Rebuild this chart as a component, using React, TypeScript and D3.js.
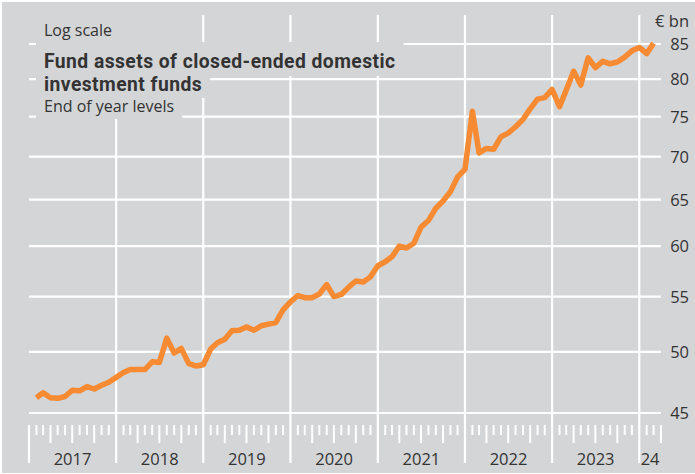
import React, { useEffect, useRef } from "react";
import * as d3 from "d3";

// month-end levels, € bn, Jan 2017 .. Feb 2024
const firstMonth = "2017-01";
const values: number[] = [
  46.2, 46.6, 46.2, 46.15, 46.3, 46.8, 46.75, 47.1, 46.9, 47.2, 47.45, 47.85, // 2017
  48.25, 48.5, 48.5, 48.5, 49.15, 49.1, 51.2, 49.9, 50.3, 49.0, 48.8, 48.9, // 2018
  50.25, 50.8, 51.1, 51.85, 51.9, 52.2, 51.9, 52.3, 52.45, 52.6, 53.75, 54.5, // 2019
  55.1, 54.9, 54.9, 55.25, 56.15, 55.0, 55.2, 55.9, 56.5, 56.4, 56.9, 58.0, // 2020
  58.4, 58.9, 60.0, 59.8, 60.3, 62.0, 62.7, 64.05, 64.85, 65.9, 67.6, 68.5, // 2021
  75.7, 70.45, 71.0, 70.9, 72.45, 72.9, 73.7, 74.65, 76.0, 77.3, 77.5, 78.6, // 2022
  76.3, 78.5, 81.1, 79.2, 83.0, 81.6, 82.5, 82.15, 82.4, 83.1, 84.0, 84.5, // 2023
  83.6, 85.1, // 2024
];
const yTicks = [45, 50, 55, 60, 65, 70, 75, 80, 85];
const yearLabels = ["2017", "2018", "2019", "2020", "2021", "2022", "2023", "24"];
const axisStart = "2017-01-01";
const axisEnd = "2024-04-01";

const titleLines = ["Fund assets of closed-ended domestic", "investment funds"];

const W = 695;
const H = 474;
const BG = "#d4d5d7";
const TEXT = "#333333";
const ORANGE = "#f68b33";
const FONT = "'Open Sans', 'Noto Sans', sans-serif";
const TITLE_FONT = "Roboto, 'Open Sans', sans-serif";

export default function App() {
  const ref = useRef<SVGSVGElement>(null);

  useEffect(() => {
    if (!ref.current) return;
    const svg = d3.select(ref.current);
    svg.selectAll("*").remove();

    const left = 29, right = 661, top = 15, bottom = 413;
    const x = d3.scaleTime().domain([new Date(axisStart), new Date(axisEnd)]).range([left, right]);
    const y = d3.scaleLog().domain([45, 85]).range([bottom, 44]);

    const start = d3.timeParse("%Y-%m")(firstMonth)!;
    // plotted at end of month = first day of following month
    const rows = values.map((v, i) => ({ date: d3.timeMonth.offset(start, i + 1), v }));

    svg.append("rect").attr("x", 2).attr("y", 2).attr("width", W - 2).attr("height", H - 3).attr("fill", BG);

    // horizontal grid
    svg.append("g").selectAll("line").data(yTicks).join("line")
      .attr("x1", left).attr("x2", right)
      .attr("y1", (d) => y(d)).attr("y2", (d) => y(d))
      .attr("stroke", "#fff").attr("stroke-width", 2.2);

    // year lines + month ticks
    const years = d3.timeYear.range(new Date(axisStart), new Date(axisEnd));
    svg.append("g").selectAll("line").data(years.slice(1)).join("line")
      .attr("x1", (d) => x(d)).attr("x2", (d) => x(d))
      .attr("y1", top).attr("y2", 463)
      .attr("stroke", "#fff").attr("stroke-width", 2.2);
    svg.append("line").attr("x1", x(years[0])).attr("x2", x(years[0]))
      .attr("y1", 425).attr("y2", 463).attr("stroke", "#fff").attr("stroke-width", 2.2);

    const months = d3.timeMonth.range(new Date(axisStart), d3.timeDay.offset(new Date(axisEnd), 1))
      .filter((d) => d.getMonth() !== 0);
    svg.append("g").selectAll("line").data(months).join("line")
      .attr("x1", (d) => x(d)).attr("x2", (d) => x(d))
      .attr("y1", 425).attr("y2", (d) => (d.getMonth() % 3 === 0 ? 443 : 435))
      .attr("stroke", "#fff").attr("stroke-width", 2);

    // year labels
    svg.append("g").selectAll("text").data(years).join("text")
      .attr("x", (d, i) => {
        const end = i < years.length - 1 ? years[i + 1] : new Date(axisEnd);
        return (x(d) + x(end)) / 2;
      })
      .attr("y", 465).attr("text-anchor", "middle")
      .attr("font-family", FONT).attr("font-size", 16.5).attr("fill", TEXT)
      .text((d, i) => yearLabels[i]);

    // right axis labels
    svg.append("g").selectAll("text").data(yTicks).join("text")
      .attr("x", 689).attr("y", (d) => y(d)).attr("dy", "0.36em").attr("text-anchor", "end")
      .attr("font-family", FONT).attr("font-size", 16.5).attr("fill", TEXT)
      .text((d) => d);
    svg.append("text").attr("x", 689).attr("y", 27).attr("text-anchor", "end")
      .attr("font-family", FONT).attr("font-size", 16.5).attr("fill", TEXT).text("€ bn");

    // title block: background boxes mask the grid behind each text line
    const tg = svg.append("g");
    const boxes = tg.append("g");
    const lineTxt = (s: string, yb: number, size: number) =>
      tg.append("text").attr("x", 44).attr("y", yb).attr("font-family", FONT)
        .attr("font-size", size).attr("fill", TEXT).text(s);
    const addBox = (w: number, y0: number, y1: number) =>
      boxes.append("rect").attr("x", 36).attr("y", y0).attr("width", w + 16).attr("height", y1 - y0).attr("fill", BG);

    const t0 = lineTxt("Log scale", 36, 16);
    addBox((t0.node() as SVGTextElement).getComputedTextLength(), 13, 42);

    const spans = titleLines.map((s, i) =>
      tg.append("text").attr("x", 44).attr("y", 68 + i * 23)
        .attr("font-family", TITLE_FONT).attr("font-size", 19.3).attr("font-weight", 700)
        .attr("letter-spacing", 0.45).attr("fill", TEXT).text(s));
    addBox((spans[0].node() as SVGTextElement).getComputedTextLength(), 42, 76);
    addBox((spans[1].node() as SVGTextElement).getComputedTextLength(), 76, 98);

    const t3 = lineTxt("End of year levels", 112, 16);
    addBox((t3.node() as SVGTextElement).getComputedTextLength(), 98, 119);

    // series
    const line = d3.line<{ date: Date; v: number }>().x((d) => x(d.date)).y((d) => y(d.v));
    svg.append("path").datum(rows).attr("d", line)
      .attr("fill", "none").attr("stroke", ORANGE).attr("stroke-width", 5.5)
      .attr("stroke-linejoin", "round");
  }, []);

  return (
    <svg ref={ref} width={W} height={H}
      style={{ position: "absolute", left: 0, top: 0, background: "#fff" }} />
  );
}
